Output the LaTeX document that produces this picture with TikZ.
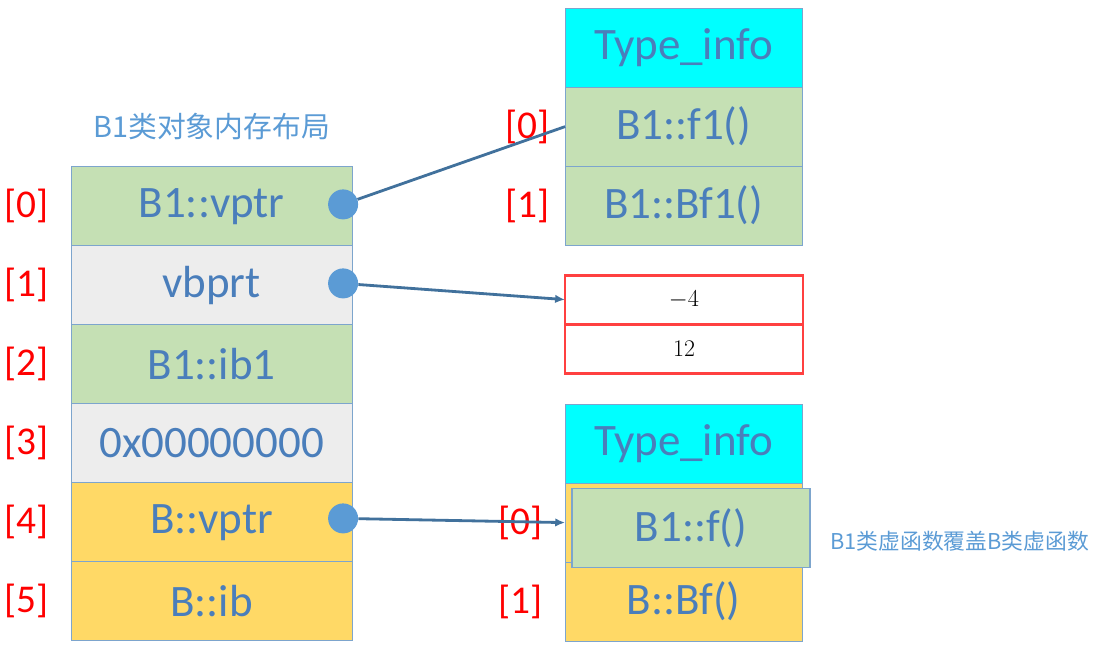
\documentclass[tikz,border=0pt]{standalone}
\usepackage{fontspec}
\usetikzlibrary{positioning,calc}
\usetikzlibrary{arrows.meta}
\newfontfamily\calib{Carlito}
\newfontfamily\cjk{Noto Sans CJK SC}
\newcommand{\boxfont}{\calib\fontsize{32}{36}\selectfont}
\newcommand{\idxfont}{\calib\fontsize{28}{32}\selectfont}
\definecolor{txtblue}{RGB}{74,126,187}
\definecolor{cellline}{RGB}{125,165,205}
\definecolor{cellgreen}{RGB}{197,224,180}
\definecolor{cellgray}{RGB}{237,237,237}
\definecolor{cellyellow}{RGB}{255,217,102}
\definecolor{celltype}{RGB}{0,255,255}
\definecolor{dotblue}{RGB}{91,155,213}
\definecolor{linkblue}{RGB}{65,113,156}
\definecolor{boxred}{RGB}{255,64,64}
\tikzset{
  cell/.style={rectangle, draw=cellline, line width=0.8pt, minimum width=7.025cm, minimum height=1.975cm, inner sep=0pt, outer sep=0pt, text=txtblue, font=\boxfont},
  vcell/.style={cell, minimum width=5.925cm},
  offcell/.style={rectangle, draw=boxred, line width=2pt, minimum width=5.95cm, minimum height=1.225cm, inner sep=0pt, outer sep=0pt, fill=white, font=\fontsize{17}{20}\selectfont},
  idx/.style={text=red, font=\idxfont, inner sep=0pt},
  dot/.style={circle, fill=dotblue, minimum size=0.75cm, inner sep=0pt},
  link/.style={draw=linkblue, line width=2pt, -{Latex[length=7pt,width=6pt]}},
  note/.style={text=dotblue, inner sep=0pt}
}
\begin{document}
\begin{tikzpicture}
\useasboundingbox (0,0) rectangle (27.35,-16.5);
% B1 object layout
\node[cell, fill=cellgreen] (vptr) at (5.29,-5.16) {B1::vptr};
\node[cell, fill=cellgray, below=0cm of vptr] (vbptr) {vbprt};
\node[cell, fill=cellgreen, below=0cm of vbptr] (ib1) {B1::ib1};
\node[cell, fill=cellgray, below=0cm of ib1] (zero) {0x00000000};
\node[cell, fill=cellyellow, below=0cm of zero] (bvptr) {B::vptr};
\node[cell, fill=cellyellow, below=0cm of bvptr] (bib) {B::ib};
\node[note, font=\cjk\fontsize{20.5}{24}\selectfont, above=0.68cm of vptr] (title) {B1类对象内存布局};
\node[idx, left=0.55cm of vptr] (i0) {[0]};
\node[idx, left=0.55cm of vbptr] (i1) {[1]};
\node[idx, left=0.55cm of ib1] (i2) {[2]};
\node[idx, left=0.55cm of zero] (i3) {[3]};
\node[idx, left=0.55cm of bvptr] (i4) {[4]};
\node[idx, left=0.55cm of bib] (i5) {[5]};
% B1 vtable
\node[vcell, fill=celltype] (type1) at (17.09,-1.19) {Type\_info};
\node[vcell, fill=cellgreen, below=0cm of type1] (f1) {B1::f1()};
\node[vcell, fill=cellgreen, below=0cm of f1] (bf1) {B1::Bf1()};
\node[idx, left=0.38cm of f1] (v0) {[0]};
\node[idx, left=0.38cm of bf1] (v1) {[1]};
% vbtable
\node[offcell] (neg) at (17.1,-7.49) {$-4$};
\node[offcell, below=0cm of neg] (twelve) {12};
% B vtable
\node[vcell, fill=celltype] (type2) at (17.09,-11.09) {Type\_info};
\node[vcell, fill=cellyellow, below=0cm of type2] (fb) {};
\node[vcell, fill=cellyellow, below=0cm of fb] (bf) {B::Bf()};
\node[vcell, fill=cellgreen, minimum width=5.95cm] (fb1) at (17.275,-13.21) {B1::f()};
\node[idx, left=0.55cm of fb] (w0) {[0]};
\node[idx, left=0.55cm of bf] (w1) {[1]};
\node[note, font=\cjk\fontsize{15.5}{18}\selectfont, anchor=west] (cover) at ($(fb1.east)+(0.5,-0.31)$) {B1类虚函数覆盖B类虚函数};
% pointers
\node[dot] (d0) at ($(vptr.east)+(-0.225,0.05)$) {};
\node[dot] (d1) at ($(vbptr.east)+(-0.225,0.05)$) {};
\node[dot] (d4) at ($(bvptr.east)+(-0.225,0.1)$) {};
\draw[draw=linkblue, line width=2pt] (d0) -- (f1.west);
\draw[link] (d1) -- (neg.west);
\draw[link] (d4) -- (fb.west);
\end{tikzpicture}
\end{document}
